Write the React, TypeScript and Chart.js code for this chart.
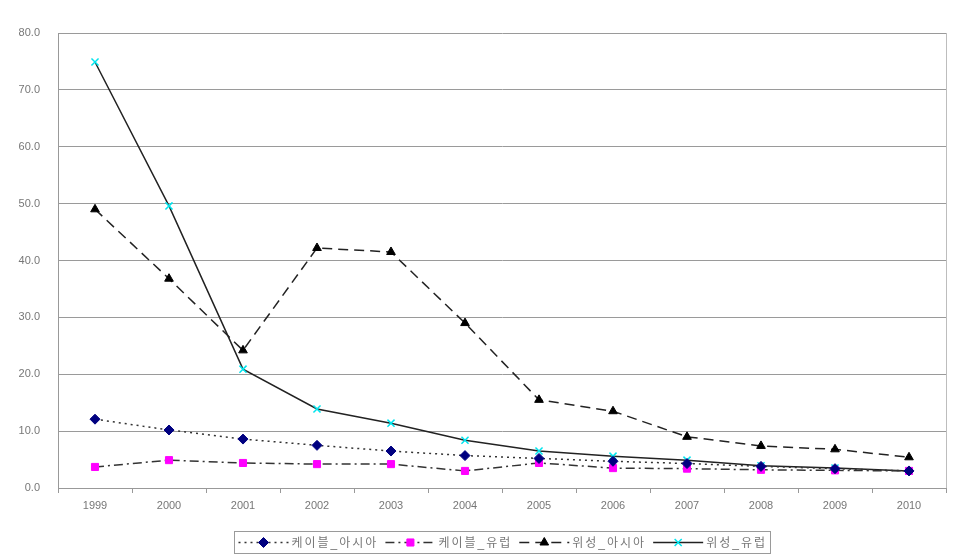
import React, { useEffect, useRef } from "react";
import { Chart, registerables } from "chart.js";
import { drawPoint } from "chart.js/helpers";

Chart.register(...registerables);

const categories = ["1999", "2000", "2001", "2002", "2003", "2004", "2005", "2006", "2007", "2008", "2009", "2010"];
const cableAsia = [12.1, 10.2, 8.6, 7.5, 6.5, 5.7, 5.2, 4.7, 4.3, 3.8, 3.4, 3.0];
const cableEurope = [3.7, 4.9, 4.4, 4.2, 4.2, 3.0, 4.4, 3.5, 3.4, 3.2, 3.1, 3.0];
const satAsia = [49.0, 36.8, 24.2, 42.2, 41.5, 29.0, 15.5, 13.5, 9.0, 7.4, 6.8, 5.4];
const satEurope = [74.9, 49.6, 20.9, 13.9, 11.4, 8.4, 6.5, 5.6, 4.9, 3.9, 3.5, 3.0];
const seriesNames = ["케이블_아시아", "케이블_유럽", "위성_아시아", "위성_유럽"];

const FONT = "'Liberation Sans', Arial, 'Noto Sans CJK KR', sans-serif";

const frameAndLegend = {
  id: "frameAndLegend",
  afterDraw(chart: any) {
    const { ctx, chartArea } = chart;
    ctx.save();
    // right border of plot
    ctx.strokeStyle = "#bdbdbd";
    ctx.lineWidth = 1;
    ctx.beginPath();
    ctx.moveTo(Math.round(chartArea.right) + 0.5, chartArea.top);
    ctx.lineTo(Math.round(chartArea.right) + 0.5, chartArea.bottom);
    ctx.stroke();

    // legend
    ctx.font = "12px " + FONT;
    (ctx as any).letterSpacing = "2px";
    const lineLen = 50;
    const gapAfterLine = 3;
    const gapBetween = 7;
    const items = chart.data.datasets.map((ds: any) => ({ ds, w: ctx.measureText(ds.label).width }));
    let total = 0;
    items.forEach((it: any) => (total += lineLen + gapAfterLine + it.w));
    total += gapBetween * (items.length - 1);
    const padX = 4;
    const boxW = total + padX * 2;
    const cx = (chartArea.left + chartArea.right) / 2;
    const boxX = Math.round(cx - boxW / 2) + 0.5;
    const boxY = 531.5;
    const boxH = 22;
    ctx.strokeStyle = "#9a9a9a";
    ctx.lineWidth = 1;
    ctx.strokeRect(boxX, boxY, Math.round(boxW), boxH);
    let x = boxX + padX;
    const y = boxY + boxH / 2;
    items.forEach((it: any) => {
      const ds = it.ds;
      ctx.save();
      ctx.strokeStyle = ds.borderColor;
      ctx.lineWidth = ds.borderWidth;
      ctx.setLineDash(ds.borderDash || []);
      ctx.beginPath();
      ctx.moveTo(x, y);
      ctx.lineTo(x + lineLen, y);
      ctx.stroke();
      ctx.restore();
      ctx.save();
      ctx.fillStyle = ds.pointBackgroundColor;
      ctx.strokeStyle = ds.pointBorderColor;
      ctx.lineWidth = ds.pointBorderWidth;
      drawPoint(ctx, { pointStyle: ds.pointStyle, radius: ds.pointRadius, rotation: 0, borderWidth: ds.pointBorderWidth }, x + lineLen / 2, y);
      ctx.restore();
      ctx.fillStyle = "#777";
      ctx.textBaseline = "middle";
      ctx.textAlign = "left";
      ctx.fillText(ds.label, x + lineLen + gapAfterLine, y + 1);
      x += lineLen + gapAfterLine + it.w + gapBetween;
    });
    ctx.restore();
  },
};

export default function App() {
  const ref = useRef<HTMLCanvasElement>(null);
  useEffect(() => {
    if (!ref.current) return;
    const chart = new Chart(ref.current, {
      type: "line",
      data: {
        labels: categories,
        datasets: [
          {
            label: seriesNames[0],
            data: cableAsia,
            borderColor: "#333",
            borderWidth: 1.5,
            borderDash: [2, 4],
            pointStyle: "rectRot",
            pointRadius: 5,
            pointBackgroundColor: "#000080",
            pointBorderColor: "#000080",
            pointBorderWidth: 1,
            tension: 0,
          },
          {
            label: seriesNames[1],
            data: cableEurope,
            borderColor: "#333",
            borderWidth: 1.5,
            borderDash: [9, 4, 2, 4],
            pointStyle: "rect",
            pointRadius: 5,
            pointBackgroundColor: "#ff00ff",
            pointBorderColor: "#ff00ff",
            pointBorderWidth: 1,
            tension: 0,
          },
          {
            label: seriesNames[2],
            data: satAsia,
            borderColor: "#222",
            borderWidth: 1.5,
            borderDash: [10, 6],
            pointStyle: "triangle",
            pointRadius: 5,
            pointBackgroundColor: "#000",
            pointBorderColor: "#000",
            pointBorderWidth: 1,
            tension: 0,
          },
          {
            label: seriesNames[3],
            data: satEurope,
            borderColor: "#222",
            borderWidth: 1.5,
            borderDash: [],
            pointStyle: "crossRot",
            pointRadius: 5,
            pointBackgroundColor: "#00ffff",
            pointBorderColor: "#00e5ee",
            pointBorderWidth: 1.5,
            tension: 0,
          },
        ],
      },
      options: {
        animation: false,
        responsive: true,
        maintainAspectRatio: false,
        layout: { padding: { left: 0, right: 10, top: 33, bottom: 42 } },
        plugins: { legend: { display: false }, tooltip: { enabled: false } },
        scales: {
          x: {
            offset: true,
            grid: { offset: true, drawOnChartArea: false, drawTicks: true, tickLength: 5, color: "#999" },
            border: { color: "#999" },
            ticks: { color: "#777", font: { size: 11, family: FONT }, padding: 6, maxRotation: 0 },
            afterFit: (s: any) => { s.height = 30; },
          },
          y: {
            min: 0,
            max: 80,
            ticks: { stepSize: 10, color: "#777", font: { size: 11, family: FONT }, padding: 18, callback: (v: any) => Number(v).toFixed(1) },
            grid: { color: "#9a9a9a", drawTicks: false, lineWidth: 1 },
            border: { color: "#999" },
            afterFit: (s: any) => { s.width = 58; },
          },
        },
      },
      plugins: [frameAndLegend],
    });
    return () => chart.destroy();
  }, []);
  return (
    <div style={{ position: "fixed", left: 0, top: 0, width: 956, height: 560, background: "#fff" }}>
      <canvas ref={ref} />
    </div>
  );
}
